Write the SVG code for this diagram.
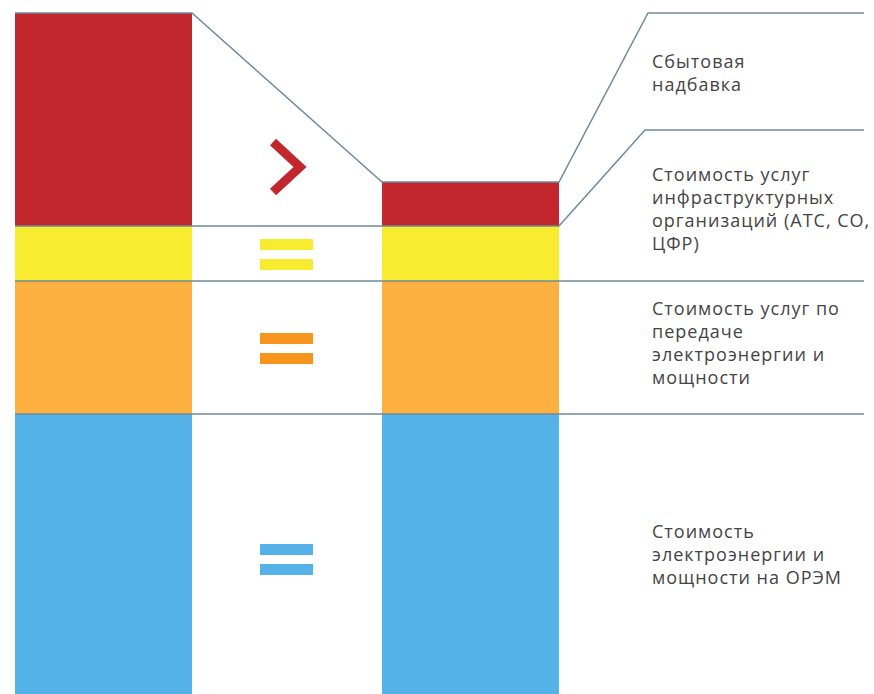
<svg xmlns="http://www.w3.org/2000/svg" width="874" height="694" viewBox="0 0 874 694">
<style>
.ln{fill:none;stroke:#6F8A9A;stroke-width:1.5}
.t{font-family:"Open Sans","DejaVu Sans",sans-serif;font-size:18px;letter-spacing:1px;fill:#444444}
</style>
<rect width="874" height="694" fill="#ffffff"/>
<g id="left-bar">
<rect x="15" y="13" width="177" height="213" fill="#C1272D"/>
<rect x="15" y="226" width="177" height="55" fill="#F7EC2F"/>
<rect x="15" y="281" width="177" height="133" fill="#FBB040"/>
<rect x="15" y="414" width="177" height="280" fill="#55B2E8"/>
</g>
<g id="right-bar">
<rect x="382" y="182" width="177" height="44" fill="#C1272D"/>
<rect x="382" y="226" width="177" height="55" fill="#F7EC2F"/>
<rect x="382" y="281" width="177" height="133" fill="#FBB040"/>
<rect x="382" y="414" width="177" height="280" fill="#55B2E8"/>
</g>
<g id="signs">
<polyline points="273,142 300,167 273,192" fill="none" stroke="#C1272D" stroke-width="9" stroke-linejoin="miter"/>
<rect x="260" y="239" width="53" height="11" fill="#F7EC2F"/>
<rect x="260" y="259" width="53" height="11" fill="#F7EC2F"/>
<rect x="260" y="333" width="53" height="11" fill="#F7941D"/>
<rect x="260" y="353" width="53" height="11" fill="#F7941D"/>
<rect x="260" y="544" width="53" height="11" fill="#55B2E8"/>
<rect x="260" y="564" width="53" height="11" fill="#55B2E8"/>
</g>
<g id="connectors">
<polyline class="ln" points="15,13 192,13 382,182 559,182 648,13 864,13"/>
<polyline class="ln" points="15,226 559,226 645,130 864,130"/>
<line class="ln" x1="15" y1="281" x2="864" y2="281"/>
<line class="ln" x1="15" y1="414" x2="864" y2="414"/>
</g>
<g id="labels">
<text class="t" x="652" y="68">Сбытовая</text>
<text class="t" x="652" y="91">надбавка</text>
<text class="t" x="652" y="181">Стоимость услуг</text>
<text class="t" x="652" y="204">инфраструктурных</text>
<text class="t" x="652" y="227">организаций (АТС, СО,</text>
<text class="t" x="652" y="250">ЦФР)</text>
<text class="t" x="652" y="315">Стоимость услуг по</text>
<text class="t" x="652" y="338">передаче</text>
<text class="t" x="652" y="361">электроэнергии и</text>
<text class="t" x="652" y="384">мощности</text>
<text class="t" x="652" y="538">Стоимость</text>
<text class="t" x="652" y="561">электроэнергии и</text>
<text class="t" x="652" y="584">мощности на ОРЭМ</text>
</g>
</svg>
